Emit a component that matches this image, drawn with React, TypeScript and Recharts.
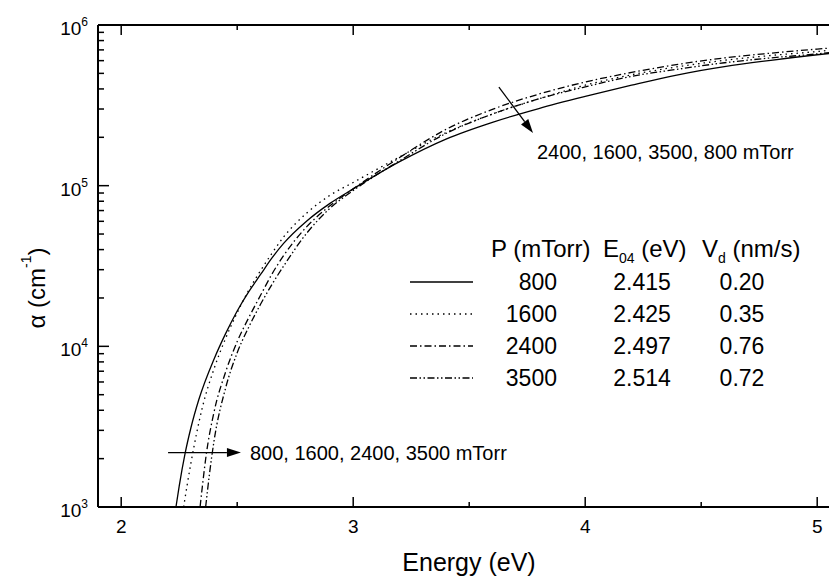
import { LineChart, Line, XAxis, YAxis, ReferenceLine, ReferenceDot, Customized } from 'recharts';

// photon energy (eV) and absorption coefficient (cm^-1)
const energy800 = [2.236, 2.25, 2.275, 2.3, 2.335, 2.4, 2.45, 2.5, 2.55, 2.6, 2.65, 2.7, 2.8, 2.9, 3.0, 3.2, 3.4, 3.6, 3.8, 4.0, 4.2, 4.4, 4.6, 4.8, 5.0, 5.1];
const alpha800 = [1000, 1350, 2140, 3090, 4680, 8320, 12000, 16600, 21900, 27900, 35500, 43700, 60300, 77600, 95500, 141000, 195000, 248000, 302000, 359000, 422000, 490000, 550000, 603000, 653000, 676000];

const energy1600 = [2.269, 2.3, 2.35, 2.4, 2.45, 2.5, 2.55, 2.6, 2.65, 2.7, 2.8, 2.9, 3.0, 3.2, 3.4, 3.6, 3.8, 4.0, 4.2, 4.4, 4.6, 4.8, 5.0, 5.1];
const alpha1600 = [1000, 1860, 4170, 7240, 11200, 16200, 22400, 29500, 38000, 47900, 67600, 87100, 104700, 151000, 214000, 279000, 347000, 422000, 490000, 550000, 603000, 646000, 684000, 708000];

const energy2400 = [2.34, 2.35, 2.366, 2.4, 2.45, 2.5, 2.55, 2.6, 2.65, 2.7, 2.8, 2.9, 3.0, 3.2, 3.4, 3.6, 3.8, 4.0, 4.2, 4.4, 4.6, 4.8, 5.0, 5.1];
const alpha2400 = [1000, 1350, 2090, 3890, 6920, 10700, 15100, 20700, 28200, 36700, 55600, 75000, 95500, 149600, 224000, 298500, 371500, 441600, 507000, 569000, 624000, 668000, 708000, 728000];

const energy3500 = [2.364, 2.38, 2.4, 2.45, 2.5, 2.55, 2.6, 2.65, 2.7, 2.8, 2.9, 3.0, 3.2, 3.4, 3.6, 3.8, 4.0, 4.2, 4.4, 4.6, 4.8, 5.0, 5.1];
const alpha3500 = [1000, 1585, 2570, 5500, 9120, 13200, 18200, 24300, 31600, 50700, 72400, 93300, 142900, 211300, 279000, 347000, 412000, 479000, 531000, 582000, 624000, 661000, 684000];

// legend table
const pressures = ['800', '1600', '2400', '3500'];
const e04 = ['2.415', '2.425', '2.497', '2.514'];
const vd = ['0.20', '0.35', '0.76', '0.72'];

const xTicks = [2, 2.5, 3, 3.5, 4, 4.5, 5];
const yTicks = [
  1000, 2000, 3000, 4000, 5000, 6000, 7000, 8000, 9000,
  10000, 20000, 30000, 40000, 50000, 60000, 70000, 80000, 90000,
  100000, 200000, 300000, 400000, 500000, 600000, 700000, 800000, 900000,
  1000000,
];

const FONT = '"Liberation Sans", Arial, sans-serif';

const series = [
  { p: pressures[0], energy: energy800, alpha: alpha800, dash: undefined },
  { p: pressures[1], energy: energy1600, alpha: alpha1600, dash: '1.5 4' },
  { p: pressures[2], energy: energy2400, alpha: alpha2400, dash: '7 3 1.5 3' },
  { p: pressures[3], energy: energy3500, alpha: alpha3500, dash: '7 2.5 1.5 2.5 1.5 2.5' },
];

const isDecade = (v: number) => Math.abs(Math.log10(v) - Math.round(Math.log10(v))) < 1e-9;

function BottomTick({ x, y, payload }: any) {
  const major = Number.isInteger(payload.value);
  return (
    <g>
      <line x1={x} y1={y} x2={x} y2={y - (major ? 10 : 5)} stroke="#000" strokeWidth={1.5} />
      {major && (
        <text x={x} y={y + 26} textAnchor="middle" fontSize={19} fontFamily={FONT} fill="#000">
          {payload.value}
        </text>
      )}
    </g>
  );
}

function TopTick({ x, y, payload }: any) {
  const major = Number.isInteger(payload.value);
  return <line x1={x} y1={y} x2={x} y2={y + (major ? 10 : 5)} stroke="#000" strokeWidth={1.5} />;
}

function LeftTick({ x, y, payload }: any) {
  const major = isDecade(payload.value);
  return (
    <g>
      <line x1={x} y1={y} x2={x + (major ? 11 : 6)} y2={y} stroke="#000" strokeWidth={1.5} />
      {major && (
        <text x={x - 10} y={y + 10} textAnchor="end" fontSize={19} fontFamily={FONT} fill="#000">
          10
          <tspan dy={-9} fontSize={12}>{Math.round(Math.log10(payload.value))}</tspan>
        </text>
      )}
    </g>
  );
}

function RightTick({ x, y, payload }: any) {
  const major = isDecade(payload.value);
  return <line x1={x} y1={y} x2={x - (major ? 11 : 6)} y2={y} stroke="#000" strokeWidth={1.5} />;
}

function Arrow({ x1, y1, x2, y2 }: any) {
  const ang = Math.atan2(y2 - y1, x2 - x1);
  const len = 14;
  const w = 4.5;
  const bx = x2 - len * Math.cos(ang);
  const by = y2 - len * Math.sin(ang);
  const px = -Math.sin(ang) * w;
  const py = Math.cos(ang) * w;
  return (
    <g>
      <line x1={x1} y1={y1} x2={bx} y2={by} stroke="#000" strokeWidth={1.3} />
      <polygon points={`${x2},${y2} ${bx + px},${by + py} ${bx - px},${by - py}`} fill="#000" />
    </g>
  );
}

const note = (text: string) => ({ cx, cy }: any) => (
  <text x={cx} y={cy} dominantBaseline="central" fontSize={20} fontFamily={FONT} fill="#000">
    {text}
  </text>
);

function LegendTable() {
  const rowY = [282, 314, 346, 378];
  return (
    <g fontFamily={FONT} fontSize={23} fill="#000">
      <text x={491} y={257} fontSize={24}>P (mTorr)</text>
      <text x={603} y={257} fontSize={24}>
        E<tspan dy={6} fontSize={14}>04</tspan>
        <tspan dy={-6}> (eV)</tspan>
      </text>
      <text x={702} y={257} fontSize={24}>
        V<tspan dy={6} fontSize={14}>d</tspan>
        <tspan dy={-6}> (nm/s)</tspan>
      </text>
      {series.map((s, i) => (
        <g key={s.p}>
          <line x1={410} x2={473} y1={rowY[i]} y2={rowY[i]} stroke="#000" strokeWidth={1.3} strokeDasharray={s.dash} />
          <text x={557} y={rowY[i]} textAnchor="end" dominantBaseline="central">{pressures[i]}</text>
          <text x={642} y={rowY[i]} textAnchor="middle" dominantBaseline="central">{e04[i]}</text>
          <text x={742} y={rowY[i]} textAnchor="middle" dominantBaseline="central">{vd[i]}</text>
        </g>
      ))}
      <text x={469} y={571} textAnchor="middle" fontSize={25}>Energy (eV)</text>
      <text x={36} y={288} textAnchor="middle" dominantBaseline="central" fontSize={24} transform="rotate(-90 36 288)">
        α (cm<tspan dy={-10} fontSize={14}>-1</tspan>
        <tspan dy={10}>)</tspan>
      </text>
    </g>
  );
}

const axisLine = { stroke: '#000', strokeWidth: 2 };

export default function App() {
  return (
    <div style={{ position: 'fixed', left: 0, top: 0, width: 829, height: 578, overflow: 'hidden', background: '#fff' }}>
      <LineChart width={860} height={578} margin={{ top: 24, right: 18.6, bottom: 70, left: 97 }}>
        <XAxis
          type="number"
          dataKey="e"
          domain={[1.9, 5.1]}
          ticks={xTicks}
          interval={0}
          allowDataOverflow
          height={1}
          tickSize={0}
          tickMargin={0}
          tickLine={false}
          axisLine={axisLine}
          tick={(p: any) => <BottomTick {...p} />}
        />
        <XAxis
          xAxisId="top"
          orientation="top"
          type="number"
          dataKey="e"
          domain={[1.9, 5.1]}
          ticks={xTicks}
          interval={0}
          allowDataOverflow
          height={1}
          tickSize={0}
          tickMargin={0}
          tickLine={false}
          axisLine={axisLine}
          tick={(p: any) => <TopTick {...p} />}
        />
        <YAxis
          type="number"
          scale="log"
          domain={[1000, 1000000]}
          ticks={yTicks}
          interval={0}
          allowDataOverflow
          width={1}
          tickSize={0}
          tickMargin={0}
          tickLine={false}
          axisLine={axisLine}
          tick={(p: any) => <LeftTick {...p} />}
        />
        <YAxis
          yAxisId="right"
          orientation="right"
          type="number"
          scale="log"
          domain={[1000, 1000000]}
          ticks={yTicks}
          interval={0}
          allowDataOverflow
          width={1}
          tickSize={0}
          tickMargin={0}
          tickLine={false}
          axisLine={axisLine}
          tick={(p: any) => <RightTick {...p} />}
        />
        {series.map((s) => (
          <Line
            key={s.p}
            data={s.energy.map((e, i) => ({ e, a: s.alpha[i] }))}
            dataKey="a"
            type="monotone"
            stroke="#000"
            strokeWidth={1.3}
            strokeDasharray={s.dash}
            dot={false}
            activeDot={false}
            isAnimationActive={false}
          />
        ))}
        <ReferenceLine segment={[{ x: 3.628, y: 411000 }, { x: 3.775, y: 212800 }]} shape={(p: any) => <Arrow {...p} />} ifOverflow="visible" />
        <ReferenceLine segment={[{ x: 2.202, y: 2180 }, { x: 2.516, y: 2180 }]} shape={(p: any) => <Arrow {...p} />} ifOverflow="visible" />
        <ReferenceDot x={3.792} y={162000} r={0} shape={note('2400, 1600, 3500, 800 mTorr')} ifOverflow="visible" />
        <ReferenceDot x={2.555} y={2180} r={0} shape={note('800, 1600, 2400, 3500 mTorr')} ifOverflow="visible" />
        <Customized component={<LegendTable />} />
      </LineChart>
    </div>
  );
}
